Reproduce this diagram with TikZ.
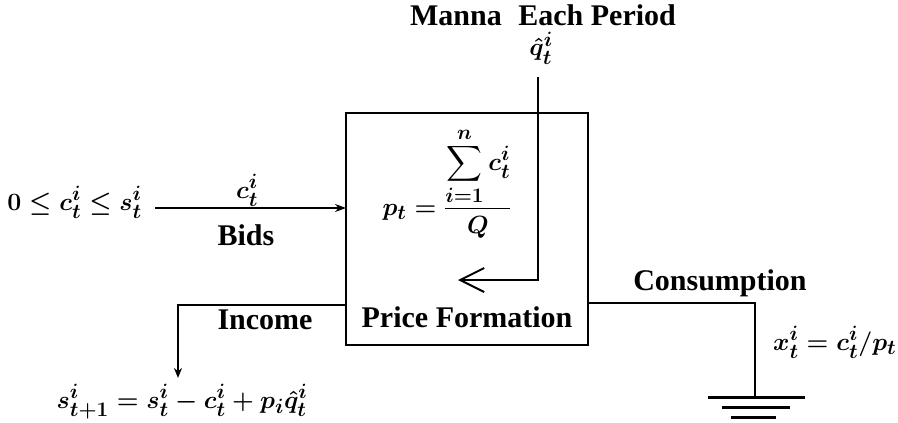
\documentclass[tikz,border=0pt]{standalone}
\usepackage{amsmath}
\usepackage{fontspec}
\setmainfont{Liberation Serif}
\usetikzlibrary{arrows.meta}
\tikzset{
  lbl/.style={font=\fontsize{30}{34}\selectfont\bfseries\boldmath, inner sep=0pt, anchor=base},
  mth/.style={font=\fontsize{28}{32}\selectfont\bfseries\boldmath, inner sep=0pt, anchor=base},
  bigmth/.style={font=\fontsize{31}{35}\selectfont\bfseries\boldmath, inner sep=0pt, anchor=base},
  wire/.style={line width=2pt},
  boxst/.style={draw, line width=2.4pt, minimum width=242pt, minimum height=232pt, inner sep=0pt, outer sep=0pt, anchor=north west},
  gnd/.style={line width=3pt},
}
\begin{document}
\begin{tikzpicture}[x=1pt,y=-1pt]
\useasboundingbox (0,0) rectangle (898,423);
% box
\node[boxst] (box) at (346,113) {};
% coordinates
\coordinate (bidstart) at (155,208);
\coordinate (bidend) at (box.west |- bidstart);
\coordinate (mtop) at (538,77);
\coordinate (mcorner) at (538,280);
\coordinate (mtip) at (458,280);
\coordinate (incstart) at (box.west |- 0,305);
\coordinate (inccorner) at (178,305);
\coordinate (incend) at (178,378);
\coordinate (constart) at (box.east |- 0,303);
\coordinate (concorner) at (755,303);
\coordinate (conend) at (755,397);
\coordinate (g1a) at (708,397); \coordinate (g1b) at (805,397);
\coordinate (g2a) at (722,407); \coordinate (g2b) at (790,407);
\coordinate (g3a) at (731,417); \coordinate (g3b) at (776,417);
% texts
\node[mth, anchor=base east] (cond) at (142,210) {$0\le c_t^i\le s_t^i$};
\node[mth] (cbid) at (247,198) {$c_t^i$};
\node[lbl] (bids) at (246,245) {Bids};
\node[mth] (price) at (447,215) {$p_t = \dfrac{\displaystyle\sum_{i=1}^{n} c_t^i}{Q}$};
\node[lbl] (manna) at (543,25) {Manna\hspace{0.55em}Each Period};
\node[mth] (qhat) at (541,56) {$\hat q_t^i$};
\node[lbl] (pf) at (467,327) {Price Formation};
\node[lbl] (income) at (265,329) {Income};
\node[bigmth] (seq) at (182,408) {$s_{t+1}^i = s_t^i - c_t^i + p_i\hat q_t^i$};
\node[lbl] (cons) at (720,290) {Consumption};
\node[mth, anchor=base west] (xeq) at (773,350) {$x_t^i = c_t^i/p_t$};
% connectors
\draw[wire, -{Stealth[length=11pt,width=8pt]}] (bidstart) -- (bidend);
\draw[wire, -{Straight Barb[length=24pt,width=24pt,line width=2pt]}] (mtop) -- (mcorner) -- (mtip);
\draw[wire, -{Stealth[length=10pt,width=8pt]}] (incstart) -- (inccorner) -- (incend);
\draw[wire] (constart) -- (concorner) -- (conend);
\draw[gnd] (g1a) -- (g1b);
\draw[gnd] (g2a) -- (g2b);
\draw[gnd] (g3a) -- (g3b);
\end{tikzpicture}
\end{document}
